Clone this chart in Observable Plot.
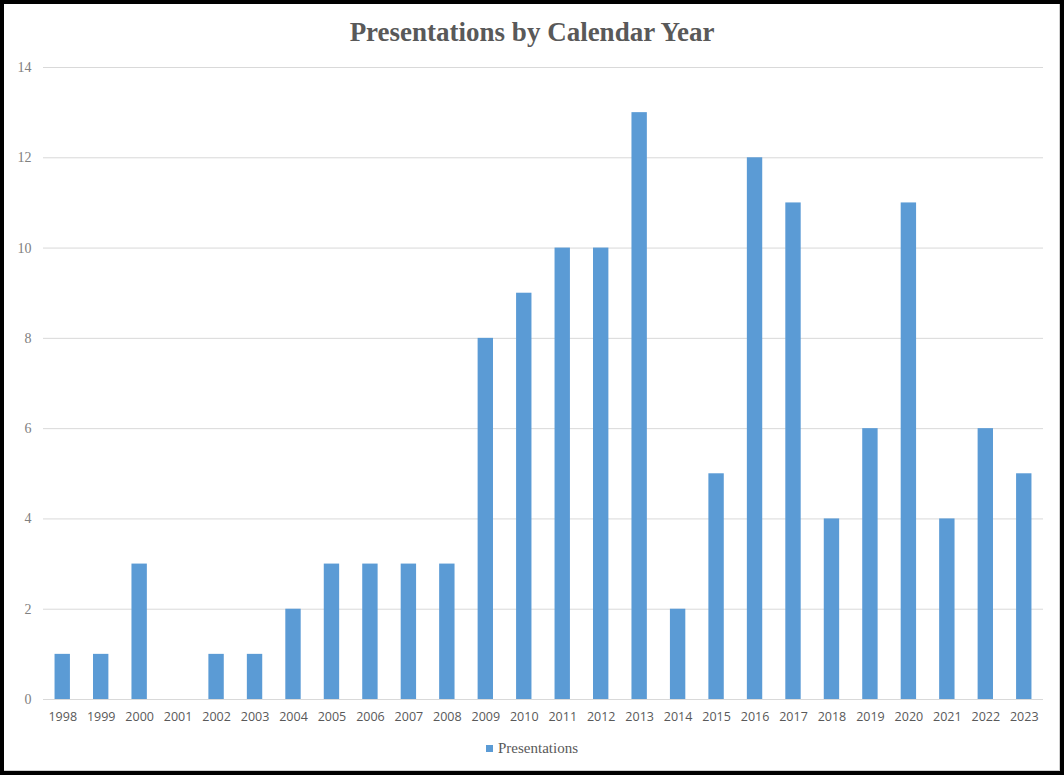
<!DOCTYPE html>
<html>
<head>
<meta charset="utf-8">
<script src="https://cdn.jsdelivr.net/npm/d3@7"></script>
<script src="https://cdn.jsdelivr.net/npm/@observablehq/plot@0.6"></script>
<style>
  html, body { margin: 0; padding: 0; background: #fff; }
  #frame { position: relative; width: 1064px; height: 775px; box-sizing: border-box; overflow: hidden; }
  #border { position: absolute; inset: 0; border: 4px solid #000; box-sizing: border-box; pointer-events: none; z-index: 5; }
  #border2 { position: absolute; left: 4px; top: 4px; right: 4px; bottom: 4px; border-right: 1px solid #d0d0d0; border-bottom: 1px solid #d0d0d0; pointer-events: none; }
  #title { position: absolute; top: 0; left: 0; width: 1064px; height: 50px; text-align: center; line-height: 64px;
    font-family: "Liberation Serif", serif; font-weight: bold; font-size: 27px; color: #595959; }
  #chart { position: absolute; top: 50px; left: 0; }
  #legend { position: absolute; top: 740px; left: 0; width: 1064px; text-align: center;
    font-family: "Liberation Serif", serif; font-size: 15px; color: #595959; }
  #legend .sw { display: inline-block; width: 7px; height: 7px; background: #5B9BD5; margin-right: 5px; vertical-align: 1px; }
</style>
</head>
<body>
<div id="frame">
  <div id="title">Presentations by Calendar Year</div>
  <div id="chart"></div>
  <div id="legend"><span class="sw"></span>Presentations</div>
  <div id="border2"></div>
  <div id="border"></div>
</div>
<script>
const years = ["1998","1999","2000","2001","2002","2003","2004","2005","2006","2007","2008","2009","2010","2011","2012","2013","2014","2015","2016","2017","2018","2019","2020","2021","2022","2023"];
const presentations = [1,1,3,0,1,1,2,3,3,3,3,8,9,10,10,13,2,5,12,11,4,6,11,4,6,5];
const yTicks = [0,2,4,6,8,10,12,14];
const seriesName = "Presentations";

const data = years.map((y, i) => ({year: y, value: presentations[i]}));

const chart = Plot.plot({
  width: 1064,
  height: 690,
  marginTop: 17,
  marginBottom: 41,
  marginLeft: 43,
  marginRight: 21,
  style: { background: "transparent", overflow: "visible" },
  x: { domain: years, paddingInner: 0.6, paddingOuter: 0.3, round: false, label: null, tickSize: 0, tickPadding: 13 },
  y: { domain: [0, 14], ticks: yTicks, label: null, tickSize: 0, tickPadding: 12 },
  marks: [
    Plot.ruleY(yTicks, { stroke: "#d9d9d9", strokeWidth: 1 }),
    Plot.barY(data, { x: "year", y: "value", fill: "#5B9BD5" }),
    Plot.axisY({ ticks: yTicks, tickSize: 0, tickPadding: 12, fontFamily: "Liberation Serif, serif", fontSize: 14, fill: "#808080", label: null }),
    Plot.axisX({ tickSize: 0, tickPadding: 13, fontFamily: "Open Sans, sans-serif", fontSize: 12.5, fill: "#595959", label: null })
  ]
});
document.getElementById("chart").appendChild(chart);
</script>
</body>
</html>
